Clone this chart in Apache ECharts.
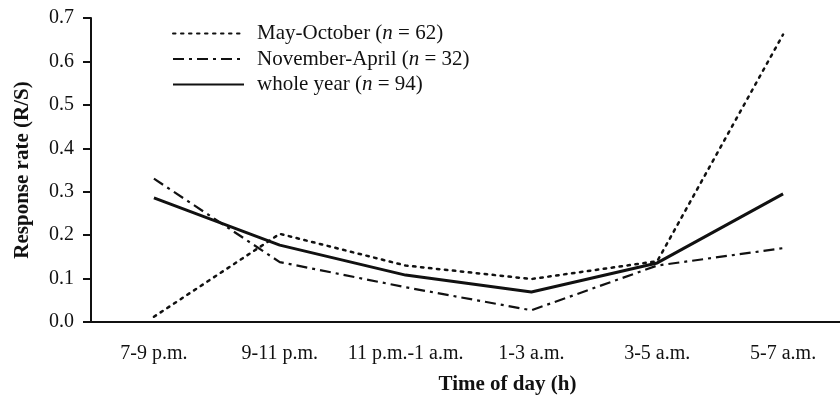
<!DOCTYPE html>
<html><head><meta charset="utf-8">
<script src="https://cdn.jsdelivr.net/npm/echarts@6/dist/echarts.min.js"></script>
<style>html,body{margin:0;padding:0;background:#fff}#c{width:840px;height:396px}</style>
</head><body><div id="c"></div>
<script>
const categories = ['7-9 p.m.', '9-11 p.m.', '11 p.m.-1 a.m.', '1-3 a.m.', '3-5 a.m.', '5-7 a.m.'];
const mayOctober = [0.012, 0.203, 0.13, 0.099, 0.14, 0.662];
const novemberApril = [0.33, 0.138, 0.08, 0.027, 0.13, 0.17];
const wholeYear = [0.286, 0.177, 0.108, 0.069, 0.136, 0.295];
const yTicks = [0, 0.1, 0.2, 0.3, 0.4, 0.5, 0.6, 0.7];
const legendN = {'May-October': 62, 'November-April': 32, 'whole year': 94};

const F = '"Liberation Serif","DejaVu Serif",serif';
const chart = echarts.init(document.getElementById('c'), null, {renderer: 'canvas'});
chart.setOption({
  animation: false,
  backgroundColor: '#fff',
  grid: {left: 91, right: -6, top: 18, bottom: 74, containLabel: false, outerBoundsMode: 'none'},
  legend: {
    orient: 'vertical', left: 167, top: 18, itemWidth: 71, itemHeight: 14, itemGap: 4.5,
    data: ['May-October', 'November-April', 'whole year'],
    itemStyle: {opacity: 0, borderWidth: 0},
    formatter: n => '{a|' + n + ' (}{i|n}{a| = ' + legendN[n] + ')}',
    textStyle: {
      fontFamily: F, fontSize: 21, color: '#111',
      rich: {
        a: {fontFamily: F, fontSize: 21, color: '#111', lineHeight: 19},
        i: {fontFamily: F, fontSize: 21, color: '#111', fontStyle: 'italic', lineHeight: 19}
      },
      padding: [0, 0, 0, 8]
    }
  },
  xAxis: {
    type: 'category', data: categories, boundaryGap: true,
    axisLine: {lineStyle: {color: '#111', width: 2}},
    axisTick: {length: 8, lineStyle: {color: '#111', width: 2}},
    axisLabel: {fontFamily: F, fontSize: 20, color: '#111', margin: 22, interval: 0, hideOverlap: false},
    name: 'Time of day (h)', nameLocation: 'middle', nameGap: 52,
    nameTextStyle: {fontFamily: F, fontSize: 21, fontWeight: 'bold', color: '#111', padding: [0, 0, 0, 78]}
  },
  yAxis: {
    type: 'value', min: 0, max: 0.7, interval: 0.1,
    splitLine: {show: false},
    axisLine: {show: true, lineStyle: {color: '#111', width: 2}},
    axisTick: {show: true, length: 8, lineStyle: {color: '#111', width: 2}},
    axisLabel: {fontFamily: F, fontSize: 20, color: '#111', margin: 17,
      formatter: v => yTicks.includes(Math.round(v * 10) / 10) ? v.toFixed(1) : ''},
    name: 'Response rate (R/S)', nameLocation: 'middle', nameGap: 58,
    nameTextStyle: {fontFamily: F, fontSize: 21, fontWeight: 'bold', color: '#111'}
  },
  series: [
    {name: 'May-October', type: 'line', data: mayOctober, showSymbol: false, symbol: 'none',
     lineStyle: {color: '#111', width: 2.5, type: [2.5, 5.5], cap: 'round'}, itemStyle: {color: '#111'}},
    {name: 'November-April', type: 'line', data: novemberApril, showSymbol: false, symbol: 'none',
     lineStyle: {color: '#111', width: 2.2, type: [11, 5, 3, 5]}, itemStyle: {color: '#111'}},
    {name: 'whole year', type: 'line', data: wholeYear, showSymbol: false, symbol: 'none',
     lineStyle: {color: '#111', width: 3}, itemStyle: {color: '#111'}}
  ]
});
</script></body></html>
